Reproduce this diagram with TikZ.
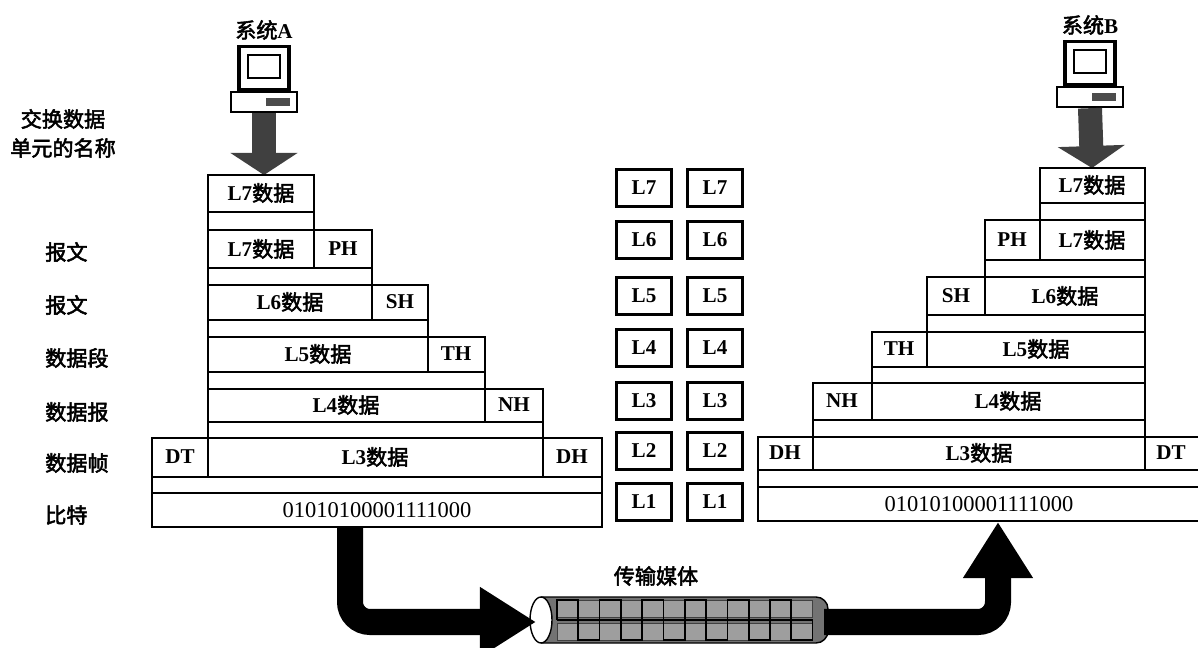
\documentclass[tikz,border=0pt]{standalone}
\usepackage{fontspec}
\setmainfont{Liberation Serif}
\newfontfamily\cjk{Noto Sans CJK SC}[FakeBold=2.5]
\usetikzlibrary{arrows.meta}
\newcommand{\zh}[1]{{\cjk\mdseries #1}}

\begin{document}
\begin{tikzpicture}[x=0.025cm,y=-0.025cm,
    every node/.style={font=\fontsize{15}{17}\selectfont\bfseries,inner sep=0pt},
    frame/.style={line width=1.7pt},
    lyr/.style={draw,line width=1.7pt,minimum width=1.375cm,minimum height=0.925cm},
    bits/.style={font=\fontsize{16}{18}\selectfont},
    downarr/.style={line width=0.6cm,black!75,-{Triangle[length=0.55cm,width=1.65cm]}},
    pipearr/.style={line width=0.65cm,rounded corners=0.5cm,-{Triangle[length=1.4cm,width=1.65cm]}}]
    \useasboundingbox (0,0) rectangle (1198,648);

    % the two computers
    \foreach \n/\cx/\cy in {A/264/0,B/1090/-5}{
        \begin{scope}[shift={(\cx,\cy)}]
            \node (sys\n) at (0,30) {\zh{系统}\n};
            \node[draw,line width=2.4pt,minimum width=1.25cm,minimum height=1.075cm] (mon\n) at (0,68) {};
            \draw[line width=1.6pt] (-16,55) rectangle (16,78);
            \node[draw,line width=1.7pt,minimum width=1.65cm,minimum height=0.5cm] (base\n) at (0,102) {};
            \fill[black!70] (2,98) rectangle (26,106);
        \end{scope}
    }
    \coordinate (inA) at (264,175);
    \coordinate (inB) at (1092,168);
    \draw[downarr] (baseA.south) -- (inA);
    \draw[downarr] (baseB.south) -- (inB);

    % names of the data units
    \node (unit1) at (63,119) {\zh{交换数据}};
    \node (unit2) at (63,148) {\zh{单元的名称}};
    \foreach \nm/\y/\t in {pdu6/252/报文,pdu5/305/报文,pdu4/358/数据段,pdu3/412/数据报,pdu2/463/数据帧,pdu1/515/比特}
        \node[anchor=west] (\nm) at (45,\y) {\zh{\t}};

    % sending side
    \foreach \t/\m/\s/\r in {175/212/230/314,230/268/285/372,285/320/337/428,337/372/389/485,389/422/438/543}
        \draw[frame] (208,\t) rectangle (\r,\s) (208,\m) -- (\r,\m);
    \foreach \t/\m/\d in {230/268/314,285/320/372,337/372/428,389/422/485}
        \draw[frame] (\d,\t) -- (\d,\m);
    \draw[frame] (152,438) rectangle (602,493) (152,477) -- (602,477) (208,438) -- (208,477) (543,438) -- (543,477);
    \draw[frame] (152,493) rectangle (602,527);
    \foreach \nm/\x/\y/\t in {a7/261/193/L7\zh{数据},a6/261/249/L7\zh{数据},ph/343/249/PH,
                             a5/290/302/L6\zh{数据},sh/400/302/SH,a4/318/354/L5\zh{数据},th/456/354/TH,
                             a3/346/405/L4\zh{数据},nh/514/405/NH,dt/180/457/DT,a2/375/457/L3\zh{数据},dh/572/457/DH}
        \node (\nm) at (\x,\y) {\t};
    \node[bits] (a1) at (377,510) {01010100001111000};

    % the layers
    \foreach \i/\y in {7/188,6/240,5/296,4/348,3/401,2/451,1/502}{
        \node[lyr] (p\i) at (644,\y) {L\i};
        \node[lyr] (q\i) at (715,\y) {L\i};
    }

    % receiving side
    \foreach \t/\m/\s/\l in {168/203/220/1040,220/260/277/985,277/315/332/927,332/367/383/872,383/420/437/813}
        \draw[frame] (\l,\t) rectangle (1145,\s) (\l,\m) -- (1145,\m);
    \foreach \t/\m/\d in {220/260/1040,277/315/985,332/367/927,383/420/872}
        \draw[frame] (\d,\t) -- (\d,\m);
    \draw[frame] (758,437) rectangle (1215,487) (758,470) -- (1215,470) (813,437) -- (813,470) (1145,437) -- (1145,470);
    \draw[frame] (758,487) rectangle (1215,521);
    \foreach \nm/\x/\y/\t in {b7/1092/185/L7\zh{数据},b6/1092/240/L7\zh{数据},phb/1012/240/PH,
                             b5/1065/296/L6\zh{数据},shb/956/296/SH,b4/1036/349/L5\zh{数据},thb/899/349/TH,
                             b3/1008/401/L4\zh{数据},nhb/842/401/NH,dhb/785/453/DH,b2/979/453/L3\zh{数据},dtb/1171/453/DT}
        \node (\nm) at (\x,\y) {\t};
    \node[bits] (b1) at (979,504) {01010100001111000};

    % transmission medium
    \node (medium) at (656,576) {\zh{传输媒体}};
    \draw[line width=1pt,fill=black!55,rounded corners=0.3cm] (541,597) -- (828,597) -- (828,643) -- (541,643);
    \foreach \i in {0,...,11}{
        \draw[black!75,fill=black!38] (557+21.3*\i,600) rectangle +(21.3,17);
        \draw[black!75,fill=black!38] (557+21.3*\i,623) rectangle +(21.3,17);
    }
    \foreach \i in {0,2,...,10}
        \draw[line width=1.2pt] (557+21.3*\i,620) -- ++(0,-20) -- ++(21.3,0) -- ++(0,40) -- ++(21.3,0) -- ++(0,-20);
    \draw[line width=1.2pt] (557,620) -- (813,620);
    \draw[line width=1pt,fill=white] (541,620) ellipse [x radius=0.275cm,y radius=0.575cm];
    \coordinate (outA) at (350,527);
    \coordinate (mediumL) at (536,622);
    \coordinate (mediumR) at (824,622);
    \coordinate (inB2) at (998,522);
    \draw[pipearr] (outA) |- (mediumL);
    \draw[pipearr] (mediumR) -| (inB2);
\end{tikzpicture}
\end{document}
